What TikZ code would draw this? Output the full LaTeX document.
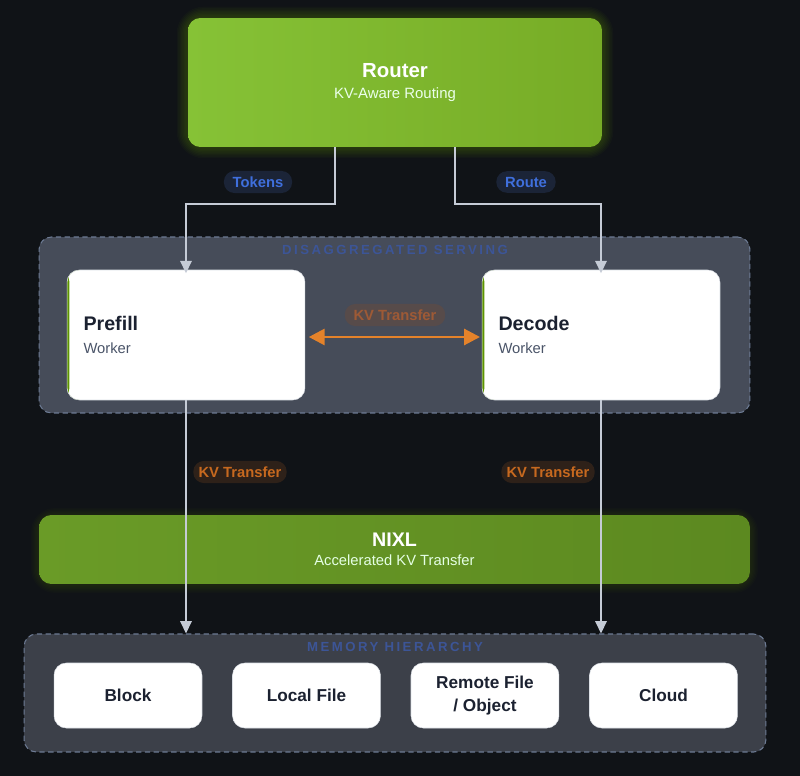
\documentclass[tikz,border=0pt]{standalone}
\usepackage{fontspec}
\setmainfont{Liberation Sans}
\newfontfamily\trackfont[LetterSpace=19]{Liberation Sans}
\usetikzlibrary{arrows.meta, positioning}

\definecolor{bgdark}{HTML}{101317}
\definecolor{routerA}{HTML}{86C236}
\definecolor{routerB}{HTML}{77AC26}
\definecolor{nixlA}{HTML}{6A9B27}
\definecolor{nixlB}{HTML}{5C8920}
\definecolor{glowgreen}{HTML}{76B900}
\definecolor{servepanel}{HTML}{464C59}
\definecolor{mempanel}{HTML}{3C4049}
\definecolor{dashline}{HTML}{6D7B94}
\definecolor{tracktext}{HTML}{3C5597}
\definecolor{flowline}{HTML}{C5CBD6}
\definecolor{inktext}{HTML}{1B2130}
\definecolor{subtext}{HTML}{4A5468}
\definecolor{kvorange}{HTML}{E4822A}
\definecolor{bluepill}{HTML}{1B2437}
\definecolor{bluetext}{HTML}{3F6FDC}
\definecolor{brownpill}{HTML}{2E2119}
\definecolor{browntext}{HTML}{C7691F}
\definecolor{fadepill}{HTML}{574B4A}
\definecolor{fadetext}{HTML}{9E5A36}

\begin{document}
\begin{tikzpicture}[x=0.02cm, y=-0.02cm,
	  node distance=0.6cm,
	  greenbox/.style={rectangle, rounded corners=7pt, text=white, align=center, inner sep=0pt},
	  panel/.style={rectangle, rounded corners=7pt, draw=dashline, dash pattern=on 3pt off 2pt, line width=0.6pt, inner sep=0pt},
	  worker/.style={rectangle, rounded corners=7pt, fill=white, draw=flowline!60, line width=0.3pt, minimum width=4.76cm, minimum height=2.6cm, text width=4.1cm, align=left, inner xsep=0.32cm,
	    path picture={\fill[glowgreen!80!black] (path picture bounding box.south west) rectangle ([xshift=1.4pt]path picture bounding box.north west);}},
	  store/.style={rectangle, rounded corners=7pt, fill=white, draw=flowline!60, line width=0.3pt, minimum width=2.96cm, minimum height=1.3cm, align=center, text=inktext, font=\bfseries\fontsize{9.8}{12.8}\selectfont},
	  pill/.style={rectangle, rounded corners=6pt, inner xsep=5pt, inner ysep=3.2pt, font=\bfseries\fontsize{8.4}{9}\selectfont},
	  tracklabel/.style={text=tracktext, font=\trackfont\bfseries\fontsize{7.5}{8}\selectfont},
	  flow/.style={draw=flowline, line width=0.9pt, -{Triangle[width=6.5pt,length=7pt]}},
	  kvarrow/.style={draw=kvorange, line width=1.7pt, {Triangle[width=9pt,length=9pt]}-{Triangle[width=9pt,length=9pt]}}
	]

	\useasboundingbox (0,0) rectangle (800,776);
	\fill[bgdark] (0,0) rectangle (800,776);

	% glows
	\foreach \g in {1,...,8}
	  \draw[glowgreen, opacity=0.035, line width=\g*1.6pt, rounded corners=9pt] (188,18) rectangle (602,147);
	\foreach \g in {1,...,6}
	  \draw[glowgreen, opacity=0.025, line width=\g*1.5pt, rounded corners=9pt] (39,516) rectangle (750,585);

	% containers
	\node (serving) [panel, fill=servepanel, minimum width=14.22cm, minimum height=3.52cm] at (394.5,325) {};
	\node (memory) [panel, fill=mempanel, minimum width=14.84cm, minimum height=2.36cm] at (395,693) {};
	\node (servingtitle) [tracklabel] at (395,250) {DISAGGREGATED SERVING};
	\node (memorytitle) [tracklabel] at (395,647) {MEMORY HIERARCHY};

	% top and middle
	\node (router) [greenbox, left color=routerA, right color=routerB, minimum width=8.28cm, minimum height=2.58cm] at (395,82.5)
	  {{\bfseries\fontsize{11.6}{12}\selectfont Router}\\[0pt]{\fontsize{8.5}{9}\selectfont\color{white!92!green} KV-Aware Routing}};
	\node (prefill) [worker] at (186,335)
	  {{\bfseries\fontsize{11.2}{12}\selectfont\color{inktext} Prefill}\\[1pt]{\fontsize{8.4}{9}\selectfont\color{subtext} Worker}};
	\node (decode) [worker] at (601,335)
	  {{\bfseries\fontsize{11.2}{12}\selectfont\color{inktext} Decode}\\[1pt]{\fontsize{8.4}{9}\selectfont\color{subtext} Worker}};
	\node (nixl) [greenbox, left color=nixlA, right color=nixlB, minimum width=14.22cm, minimum height=1.38cm] at (394.5,549.5)
	  {{\bfseries\fontsize{11.2}{12}\selectfont NIXL}\\[-1pt]{\fontsize{8.4}{9}\selectfont\color{white!90!green} Accelerated KV Transfer}};

	% storage tiers
	\node (block) [store] at (128,695.5) {Block};
	\node (localfile) [store, right=of block] {Local File};
	\node (remotefile) [store, right=of localfile] {Remote File\\/ Object};
	\node (cloud) [store, right=of remotefile] {Cloud};

	% connectors
	\coordinate (tokensbend) at (335,147);
	\coordinate (routebend) at (455,147);
	\draw[flow] (tokensbend) -- ++(0,57) -| ([yshift=-2pt]prefill.north);
	\draw[flow] (routebend) -- ++(0,57) -| ([yshift=-2pt]decode.north);
	\draw[kvarrow] ([xshift=2pt]prefill.east |- 0,337) -- ([xshift=-1pt]decode.west |- 0,337);
	\draw[flow] (prefill.south) -- (prefill.south |- memory.north);
	\draw[flow] (decode.south) -- (decode.south |- memory.north);

	% labels
	\node (tokens) [pill, fill=bluepill, text=bluetext] at (258,182) {Tokens};
	\node (route) [pill, fill=bluepill, text=bluetext] at (526,182) {Route};
	\node (kvmid) [pill, fill=fadepill, text=fadetext] at (395,315) {KV Transfer};
	\node (kvleft) [pill, fill=brownpill, text=browntext, inner xsep=3pt] at (240,472) {KV Transfer};
	\node (kvright) [pill, fill=brownpill, text=browntext, inner xsep=3pt] at (548,472) {KV Transfer};

\end{tikzpicture}
\end{document}
